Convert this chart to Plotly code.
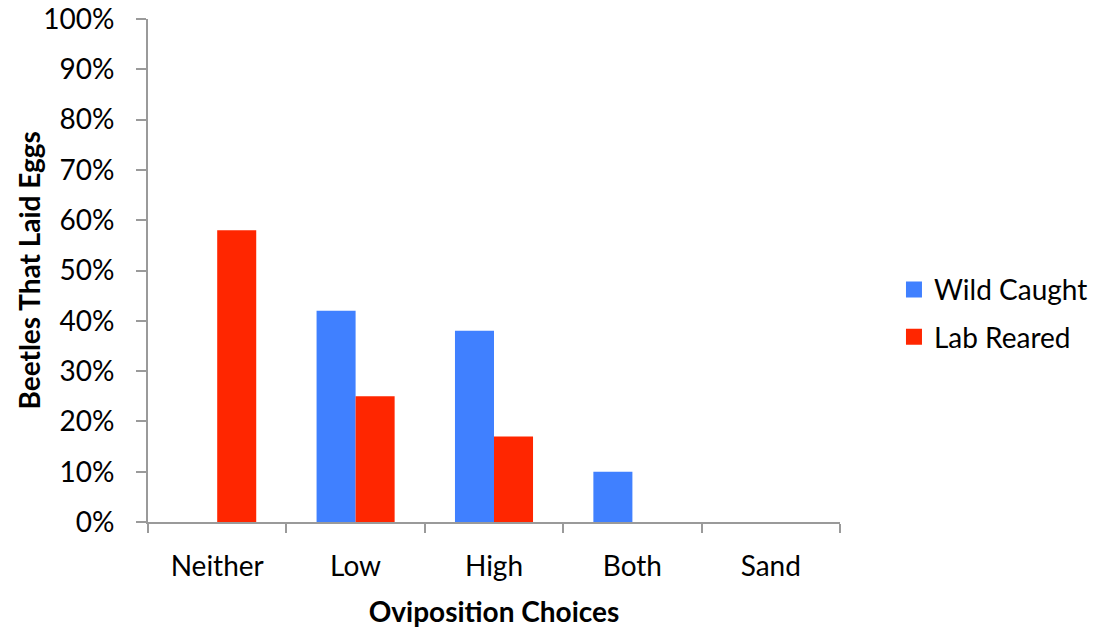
import plotly.graph_objects as go

# Oviposition choice outcomes (percent of beetles that laid eggs)
choices = ["Neither", "Low", "High", "Both", "Sand"]
wild_caught = [0, 42, 38, 10, 0]
lab_reared = [58, 25, 17, 0, 0]
y_ticks = list(range(0, 101, 10))

FONT = "Lato"
AXIS_GRAY = "#9a9a9a"
WILD_COLOR = "#4080FF"
LAB_COLOR = "#FF2600"

fig = go.Figure()
fig.add_trace(go.Bar(name="Wild Caught", x=choices, y=wild_caught, showlegend=False,
                     marker=dict(color=WILD_COLOR, line=dict(width=0))))
fig.add_trace(go.Bar(name="Lab Reared", x=choices, y=lab_reared, showlegend=False,
                     marker=dict(color=LAB_COLOR, line=dict(width=0))))

# Legend entries with larger square swatches
for name, color in [("Wild Caught", WILD_COLOR), ("Lab Reared", LAB_COLOR)]:
    fig.add_trace(go.Scatter(name=name, x=[None], y=[None], mode="markers",
                             legendgroup=name,
                             marker=dict(symbol="square", size=17, color=color)))

fig.update_layout(
    width=1094, height=628,
    margin=dict(l=148, r=254, t=19, b=106, autoexpand=False),
    plot_bgcolor="white", paper_bgcolor="white",
    barmode="group", bargap=0.436, bargroupgap=0,
    font=dict(family=FONT, size=28, color="black"),
    legend=dict(x=1.078, y=0.415, yanchor="middle", xanchor="left",
                font=dict(size=28), tracegroupgap=8, itemwidth=30),
    showlegend=True,
)

# Vertical y-axis title placed as a rotated annotation
fig.add_annotation(
    text="<b>Beetles That Laid Eggs</b>", textangle=-90,
    xref="paper", yref="paper", x=-0.1734, y=0.5,
    xanchor="center", yanchor="middle", showarrow=False,
    font=dict(size=28, family=FONT, color="black"),
)

fig.update_xaxes(
    type="category", showgrid=False, showline=True, linecolor=AXIS_GRAY, linewidth=2,
    ticks="outside", tickson="boundaries", ticklen=9, tickwidth=2, tickcolor=AXIS_GRAY,
    ticklabelstandoff=18, automargin=False,
    title=dict(text="<b>Oviposition Choices</b>", font=dict(size=28), standoff=22),
)
fig.update_yaxes(
    range=[0, 100], tickvals=y_ticks, ticktext=[f"{v}%" for v in y_ticks],
    showgrid=False, showline=True, linecolor=AXIS_GRAY, linewidth=2, zeroline=False,
    ticks="outside", ticklen=10, tickwidth=2, tickcolor=AXIS_GRAY,
    ticklabelstandoff=16, automargin=False,
)

fig.write_html("out.html")
